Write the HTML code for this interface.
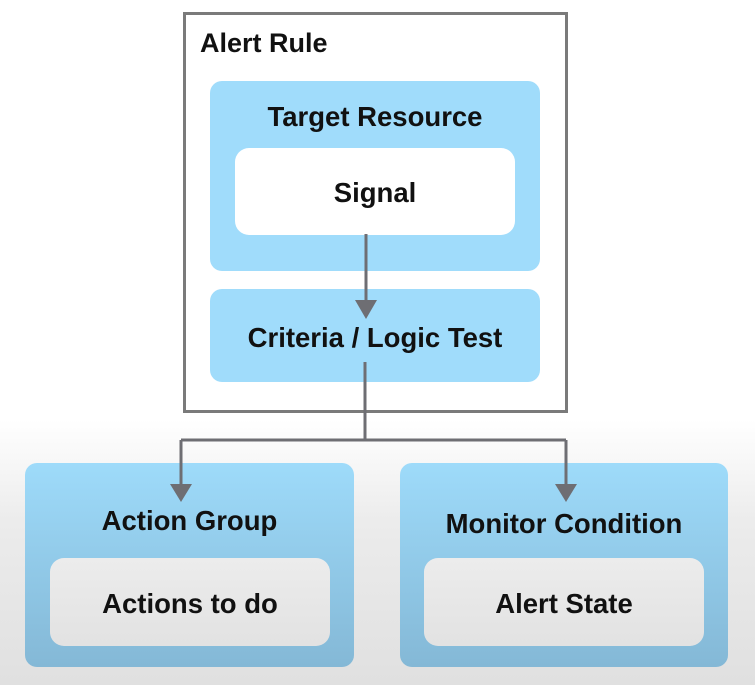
<!DOCTYPE html>
<html><head><style>
body{margin:0;width:755px;height:685px;overflow:hidden;position:relative;font-family:"Liberation Sans",sans-serif;font-weight:bold;color:#111;
background:linear-gradient(#fff 0,#fff 420px,#ececec 520px,#e0e0e0 685px);}
.a{position:absolute;box-sizing:border-box;}
.t{position:absolute;width:100%;text-align:center;font-size:27.5px;}
</style></head><body>
<div class="a" style="left:183px;top:12px;width:385px;height:401px;border:3px solid #7a7a7a;background:#fff"></div>
<div class="a" style="left:200px;top:28px;font-size:27px">Alert Rule</div>
<div class="a" style="left:210px;top:81px;width:330px;height:190px;background:#a0dcfb;border-radius:12px">
 <div class="t" style="top:20px">Target Resource</div></div>
<div class="a" style="left:235px;top:148px;width:280px;height:87px;background:#fff;border-radius:14px">
 <div class="t" style="top:29px">Signal</div></div>
<div class="a" style="left:210px;top:289px;width:330px;height:93px;background:#a0dcfb;border-radius:12px">
 <div class="t" style="top:33px">Criteria / Logic Test</div></div>
<div class="a" style="left:25px;top:463px;width:329px;height:204px;background:linear-gradient(#9edbfa,#84b8d6);border-radius:12px">
 <div class="t" style="top:42px">Action Group</div></div>
<div class="a" style="left:50px;top:558px;width:280px;height:88px;background:linear-gradient(#ececec,#e2e2e2);border-radius:14px">
 <div class="t" style="top:30px">Actions to do</div></div>
<div class="a" style="left:400px;top:463px;width:328px;height:204px;background:linear-gradient(#9edbfa,#84b8d6);border-radius:12px">
 <div class="t" style="top:45px">Monitor Condition</div></div>
<div class="a" style="left:424px;top:558px;width:280px;height:88px;background:linear-gradient(#ececec,#e2e2e2);border-radius:14px">
 <div class="t" style="top:30px">Alert State</div></div>
<svg class="a" style="left:0;top:0" width="755" height="685">
<g stroke="#6e6e73" stroke-width="3" fill="none">
<path d="M366 234V302"/>
<path d="M365 362V440M181 440H566M181 440V486M566 440V486"/>
</g>
<g fill="#6e6e73">
<polygon points="355,300 377,300 366,319"/>
<polygon points="170,484 192,484 181,502"/>
<polygon points="555,484 577,484 566,502"/>
</g>
</svg>
</body></html>
